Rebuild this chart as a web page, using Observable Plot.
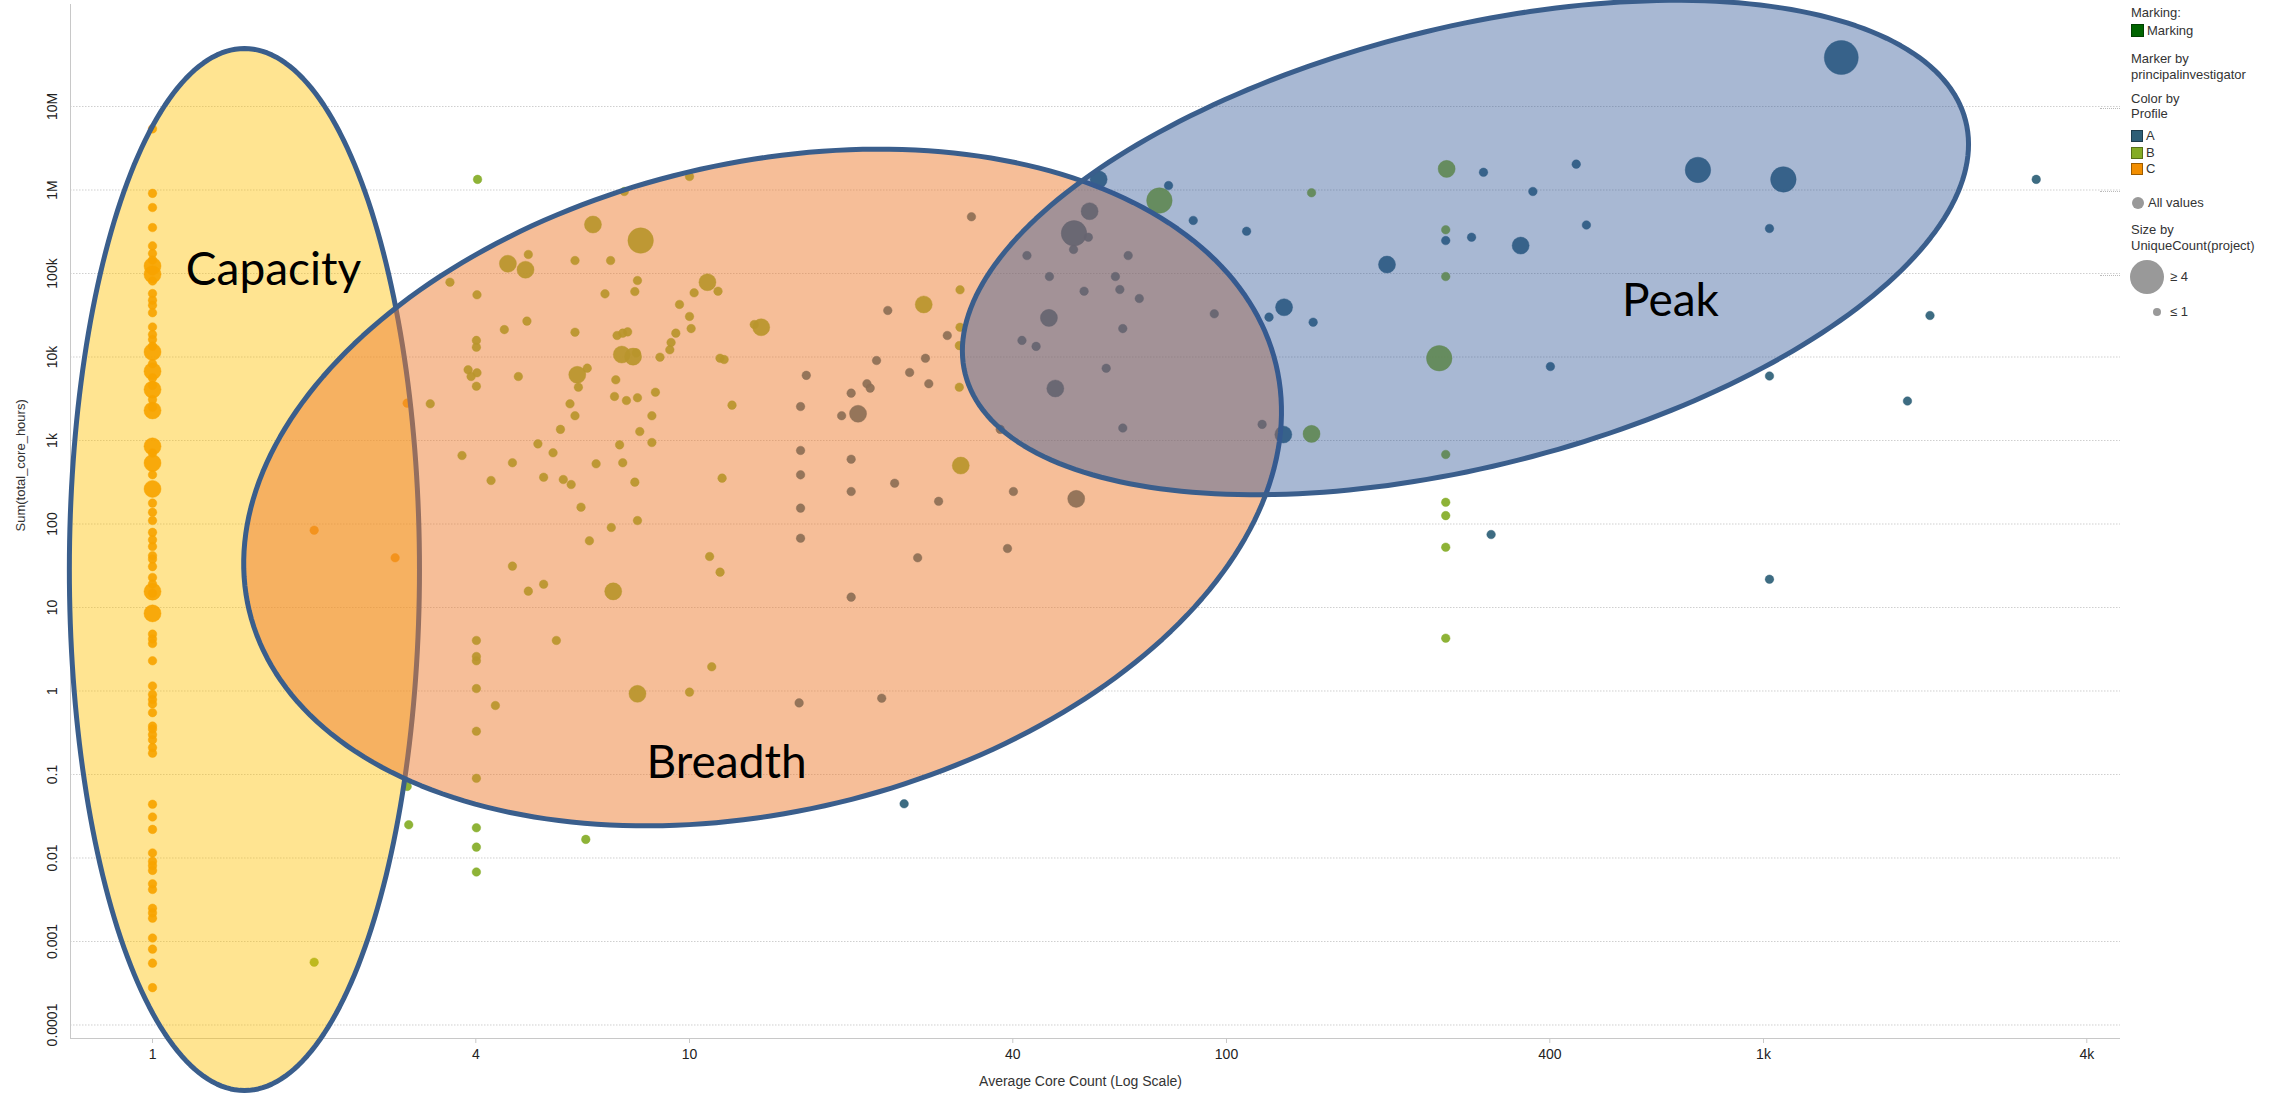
<!DOCTYPE html>
<html>
<head>
<meta charset="utf-8">
<script src="https://cdn.jsdelivr.net/npm/d3@7"></script>
<script src="https://cdn.jsdelivr.net/npm/@observablehq/plot@0.6"></script>
<style>
  body { margin: 0; background: #fff; }
  #wrap { position: relative; width: 2285px; height: 1097px; overflow: hidden; }
  .lg { position: absolute; font: 13px "Liberation Sans", Arial, sans-serif; color: #333; white-space: nowrap; line-height: 14px; }
  .sq { position: absolute; width: 12px; height: 12px; box-sizing: border-box; border: 1px solid rgba(0,0,0,0.35); }
  .dotc { position: absolute; border-radius: 50%; background: #999; }
  .sep { position: absolute; width: 20px; border-top: 1px dotted #bbb; }
</style>
</head>
<body>
<div id="wrap"></div>
<script>
// ---------------- data ----------------
const profiles = ["A", "B", "C"];
const profileColors = ["#2d5f77", "#84ac26", "#f28e00"];

const xTicks = [1, 4, 10, 40, 100, 400, 1000, 4000];
const xTickLabels = ["1", "4", "10", "40", "100", "400", "1k", "4k"];
const yTicks = [1e-4, 1e-3, 0.01, 0.1, 1, 10, 100, 1e3, 1e4, 1e5, 1e6, 1e7];
const yTickLabels = ["0.0001", "0.001", "0.01", "0.1", "1", "10", "100", "1k", "10k", "100k", "1M", "10M"];

// [average core count, sum core hours, unique project count]
const pointsC = [
  [1, 5400000, 1], [1, 912000, 1], [1, 617000, 1], [1, 355000, 1], [1, 214000, 1], [1, 174000, 1],
  [1, 145000, 1], [1, 123000, 2], [1, 107000, 1], [1, 97700, 2], [1, 81300, 1], [1, 57500, 1],
  [1, 47900, 1], [1, 41700, 1], [1, 33900, 1], [1, 22900, 1], [1, 18600, 1], [1, 16200, 1],
  [1, 13500, 1], [1, 11500, 2], [1, 8320, 1], [1, 6760, 2], [1, 5620, 1], [1, 4570, 1],
  [1, 4070, 2], [1, 3090, 1], [1, 2510, 1], [1, 2290, 2], [1, 851, 2], [1, 708, 1],
  [1, 537, 2], [1, 389, 1], [1, 263, 2], [1, 178, 1], [1, 138, 1], [1, 110, 1],
  [1, 79.4, 1], [1, 64.6, 1], [1, 53.7, 1], [1, 41.7, 1], [1, 38, 1], [1, 30.9, 1],
  [1, 22.9, 1], [1, 19.1, 1], [1, 15.5, 2], [1, 14.8, 1], [1, 8.5, 2], [1, 4.8, 1],
  [1, 4.2, 1], [1, 3.7, 1], [1, 2.3, 1], [1, 1.15, 1], [1, 0.91, 1], [1, 0.79, 1],
  [1, 0.70, 1], [1, 0.55, 1], [1, 0.38, 1], [1, 0.35, 1], [1, 0.30, 1], [1, 0.26, 1],
  [1, 0.21, 1], [1, 0.18, 1], [1, 0.044, 1], [1, 0.031, 1], [1, 0.022, 1], [1, 0.0115, 1],
  [1, 0.0091, 1], [1, 0.0081, 1], [1, 0.0071, 1], [1, 0.0049, 1], [1, 0.0042, 1], [1, 0.0025, 1],
  [1, 0.0022, 1], [1, 0.0019, 1], [1, 0.0011, 1], [1, 0.00081, 1], [1, 0.00055, 1], [1, 0.00028, 1],
  [2.98, 2800, 1], [2.0, 84.3, 1], [2.83, 39.4, 1]
];

const pointsA = [
  [33.5, 478000, 1], [23.4, 36100, 1], [30.2, 18100, 1], [22.3, 9080, 1], [27.5, 9660, 1],
  [16.5, 6030, 1], [25.7, 6530, 1], [21.4, 4790, 1], [21.7, 4240, 1], [27.9, 4790, 1],
  [20.0, 3690, 1], [16.1, 2550, 1], [19.2, 1980, 1], [20.6, 2090, 2], [16.1, 760, 1],
  [20.0, 597, 1], [16.1, 388, 1], [24.1, 308, 1], [40.1, 245, 1], [20.0, 245, 1],
  [29.1, 187, 1], [52.5, 200, 2], [16.1, 155, 1], [16.1, 67.6, 1], [39.1, 50.9, 1],
  [57.8, 1340000, 2], [55.6, 557000, 2], [52.0, 303000, 3], [55.3, 272000, 1], [51.9, 194000, 1],
  [42.5, 164000, 1], [46.8, 92000, 1], [54.3, 61400, 1], [62.1, 92000, 1], [63.3, 64300, 1],
  [65.6, 164000, 1], [68.8, 50200, 1], [94.9, 32900, 1], [46.7, 29400, 2], [41.6, 15800, 1],
  [44.2, 13400, 1], [64.1, 21900, 1], [59.7, 7330, 1], [48.0, 4200, 2], [37.9, 1360, 1],
  [64.1, 1410, 1], [116.5, 1560, 1], [127.6, 1180, 2], [78.0, 1130000, 1], [86.7, 432000, 1],
  [109, 321000, 1], [301, 1630000, 1], [256, 248000, 1], [286, 272000, 1], [199, 128000, 2],
  [128, 39400, 2], [120, 30000, 1], [145, 26100, 1], [311, 74.8, 1], [1396, 38600000, 4],
  [755, 1740000, 3], [1089, 1340000, 3], [448, 2040000, 1], [372, 960000, 1], [468, 381000, 1],
  [353, 216000, 2], [1026, 346000, 1], [3220, 1340000, 1], [2042, 31400, 1], [401, 7690, 1],
  [1026, 5920, 1], [1854, 2970, 1], [1026, 21.8, 1], [26.6, 39.4, 1], [20.0, 13.3, 1],
  [16.0, 0.72, 1], [22.8, 0.82, 1], [25.1, 0.0446, 1]
];

const pointsB = [
  [4.03, 1340000, 1], [7.56, 960000, 1], [10.0, 1450000, 1], [6.61, 386000, 2], [8.11, 248000, 3],
  [5.01, 169000, 1], [4.59, 131000, 2], [4.95, 111000, 2], [6.12, 143000, 1], [7.13, 143000, 1],
  [3.58, 78700, 1], [4.02, 55600, 1], [8.0, 82400, 1], [7.91, 60800, 1], [6.96, 57100, 1],
  [10.8, 78700, 2], [10.2, 58700, 1], [11.3, 61400, 1], [9.58, 42600, 1], [10.0, 30600, 1],
  [10.07, 21900, 1], [9.43, 19300, 1], [4.98, 26900, 1], [4.52, 21300, 1], [6.12, 19800, 1],
  [7.33, 18100, 1], [7.51, 19300, 1], [7.67, 20000, 1], [13.6, 22700, 2], [13.2, 24500, 1],
  [4.01, 15800, 1], [4.01, 13100, 1], [9.24, 14900, 1], [9.19, 12200, 1], [8.81, 9950, 1],
  [7.48, 10700, 2], [7.85, 10100, 2], [7.96, 11200, 1], [11.4, 9660, 1], [11.6, 9330, 1],
  [3.87, 7030, 1], [4.02, 6470, 1], [3.92, 5840, 1], [4.01, 4470, 1], [4.80, 5840, 1],
  [6.18, 6120, 2], [6.45, 7350, 1], [6.21, 4350, 1], [7.29, 5330, 1], [7.25, 3370, 1],
  [7.63, 3010, 1], [8.0, 3250, 1], [8.64, 3790, 1], [12.0, 2650, 1], [3.29, 2750, 1],
  [5.99, 2750, 1], [6.12, 1980, 1], [8.51, 1980, 1], [5.75, 1360, 1], [8.08, 1280, 1],
  [5.22, 912, 1], [5.57, 713, 1], [7.41, 887, 1], [8.51, 946, 1], [3.77, 661, 1],
  [4.68, 541, 1], [6.70, 526, 1], [7.51, 541, 1], [11.5, 354, 1], [4.27, 332, 1],
  [5.35, 363, 1], [5.82, 341, 1], [6.02, 297, 1], [7.91, 317, 1], [31.9, 63800, 1],
  [27.3, 42600, 2], [31.9, 22700, 1], [31.8, 13700, 1], [31.8, 4350, 1], [32.0, 501, 2],
  [75.0, 748000, 3], [144, 927000, 1], [257, 1790000, 2], [256, 334000, 1], [256, 92000, 1],
  [249, 9660, 3], [144, 1200, 2], [256, 680, 1], [256, 182, 1], [256, 126, 1],
  [256, 52.7, 1], [256, 4.29, 1], [6.28, 159, 1], [8.0, 110, 1], [7.15, 90.8, 1],
  [6.51, 62.9, 1], [4.68, 31.3, 1], [10.9, 40.8, 1], [11.4, 26.5, 1], [5.35, 19.0, 1],
  [5.01, 15.7, 1], [7.21, 15.6, 2], [4.01, 4.03, 1], [5.65, 4.03, 1], [4.01, 2.30, 1],
  [4.01, 2.59, 1], [11.0, 1.95, 1], [4.01, 1.07, 1], [8.0, 0.925, 2], [10.0, 0.97, 1],
  [4.35, 0.67, 1], [4.01, 0.33, 1], [4.01, 0.090, 1], [2.98, 0.072, 1], [3.0, 0.025, 1],
  [4.01, 0.023, 1], [4.01, 0.0135, 1], [6.41, 0.0167, 1], [4.01, 0.0068, 1], [2.0, 0.000565, 1]
];

// Annotation regions (drawn over the chart): centre in data units,
// two conjugate semi-axes expressed in log10 decades [dx, dy]
const regionNames = ["Capacity", "Breadth", "Peak"];
const regionCenterX = [1.483, 13.68, 278.6];
const regionCenterY = [28.5, 273.6, 204600];
const regionAxis1 = [[0.326, 0], [0.956, 1.475], [0.9315, 1.516]];
const regionAxis2 = [[0, 6.24], [0.1408, -3.774], [0.100, -2.543]];
const regionLabelX = [1.68, 11.72, 671];
const regionLabelY = [108700, 0.1355, 46200];

// ---------------- build ----------------
const xDomain = [0.7035, 4622];
const yDomain = [6.89e-5, 1.666e8];

const points = [
  ...pointsA.map(([x, y, n]) => ({x, y, n, profile: "A"})),
  ...pointsB.map(([x, y, n]) => ({x, y, n, profile: "B"})),
  ...pointsC.map(([x, y, n]) => ({x, y, n, profile: "C"}))
];

function outline(i) {
  const lx0 = Math.log10(regionCenterX[i]), ly0 = Math.log10(regionCenterY[i]);
  const [ax, ay] = regionAxis1[i], [bx, by] = regionAxis2[i];
  return d3.range(0, 360, 1.5).map(deg => {
    const t = deg * Math.PI / 180;
    return {
      x: Math.pow(10, lx0 + ax * Math.cos(t) + bx * Math.sin(t)),
      y: Math.pow(10, ly0 + ay * Math.cos(t) + by * Math.sin(t))
    };
  });
}

const regionStyle = [
  {fill: "#ffc000", fillOpacity: 0.43},
  {fill: "#ed7d31", fillOpacity: 0.5},
  {fill: "#2f5597", fillOpacity: 0.42}
];

const regionMarks = regionNames.map((name, i) =>
  Plot.line(outline(i), {
    x: "x", y: "y", curve: "linear-closed",
    fill: regionStyle[i].fill, fillOpacity: regionStyle[i].fillOpacity,
    stroke: "#3a5e8c", strokeWidth: 5
  })
);

const labels = regionNames.map((name, i) => ({name, x: regionLabelX[i], y: regionLabelY[i]}));

const fmtX = d => xTickLabels[xTicks.indexOf(d)];
const fmtY = d => yTickLabels[yTicks.indexOf(d)];

const chart = Plot.plot({
  width: 2285,
  height: 1097,
  marginLeft: 70,
  marginRight: 165,
  marginTop: 4,
  marginBottom: 59,
  style: {fontFamily: "'Liberation Sans', Arial, sans-serif", background: "white"},
  x: {type: "log", domain: xDomain, axis: null},
  y: {type: "log", domain: yDomain, axis: null},
  r: {type: "linear", domain: [1, 4], range: [4.3, 17], clamp: true},
  color: {domain: profiles, range: profileColors},
  marks: [
    Plot.gridY(yTicks, {stroke: "#cfcfcf", strokeOpacity: 1, strokeDasharray: "1.5,1.5"}),
    Plot.ruleX([xDomain[0]], {stroke: "#c8c8c8"}),
    Plot.ruleY([yDomain[0]], {stroke: "#c8c8c8"}),
    Plot.axisX(xTicks, {tickFormat: fmtX, tickSize: 5, tickPadding: 6, fontSize: 14, stroke: "#c8c8c8", fill: "#222", label: null}),
    Plot.text(yTicks, {x: xDomain[0], y: d => d, text: fmtY, rotate: -90, dx: -18, fontSize: 14, fill: "#222"}),
    Plot.text(["Average Core Count (Log Scale)"], {frameAnchor: "bottom", dx: -15, dy: 47, fontSize: 14, fill: "#333"}),
    Plot.text(["Sum(total_core_hours)"], {frameAnchor: "left", dx: -50, dy: 10, rotate: -90, fontSize: 13, fill: "#333"}),
    Plot.dot(points, {x: "x", y: "y", r: "n", fill: "profile", fillOpacity: 0.92, stroke: "profile", strokeWidth: 0.7, strokeOpacity: 0.6}),
    ...regionMarks,
    Plot.text(labels, {x: "x", y: "y", text: "name", fontSize: 46, fontFamily: "Lato, 'Open Sans', sans-serif", fill: "#000"})
  ]
});

const wrap = document.getElementById("wrap");
wrap.appendChild(chart);

// ---------------- legend (HTML, right side) ----------------
function add(html) { wrap.insertAdjacentHTML("beforeend", html); }
const L = 2131;
add(`<div class="lg" style="left:${L}px;top:6px">Marking:</div>`);
add(`<div class="sq" style="left:${L}px;top:24px;width:13px;height:13px;background:#006400"></div>`);
add(`<div class="lg" style="left:${L + 16}px;top:24px">Marking</div>`);
add(`<div class="lg" style="left:${L}px;top:52px">Marker by</div>`);
add(`<div class="lg" style="left:${L}px;top:68px">principalinvestigator</div>`);
add(`<div class="sep" style="left:2100px;top:108px"></div>`);
add(`<div class="lg" style="left:${L}px;top:92px">Color by</div>`);
add(`<div class="lg" style="left:${L}px;top:107px">Profile</div>`);
profiles.forEach((p, i) => {
  const top = 130 + i * 16.5;
  add(`<div class="sq" style="left:${L}px;top:${top}px;background:${profileColors[i]}"></div>`);
  add(`<div class="lg" style="left:${L + 15}px;top:${top - 1}px">${p}</div>`);
});
add(`<div class="sep" style="left:2100px;top:191px"></div>`);
add(`<div class="dotc" style="left:${L + 1}px;top:197px;width:12px;height:12px"></div>`);
add(`<div class="lg" style="left:${L + 17}px;top:196px">All values</div>`);
add(`<div class="lg" style="left:${L}px;top:223px">Size by</div>`);
add(`<div class="lg" style="left:${L}px;top:239px">UniqueCount(project)</div>`);
add(`<div class="sep" style="left:2100px;top:275px"></div>`);
add(`<div class="dotc" style="left:2130px;top:260px;width:34px;height:34px"></div>`);
add(`<div class="lg" style="left:2170px;top:270px">≥ 4</div>`);
add(`<div class="dotc" style="left:2153px;top:308px;width:8px;height:8px"></div>`);
add(`<div class="lg" style="left:2170px;top:305px">≤ 1</div>`);
</script>
</body>
</html>
